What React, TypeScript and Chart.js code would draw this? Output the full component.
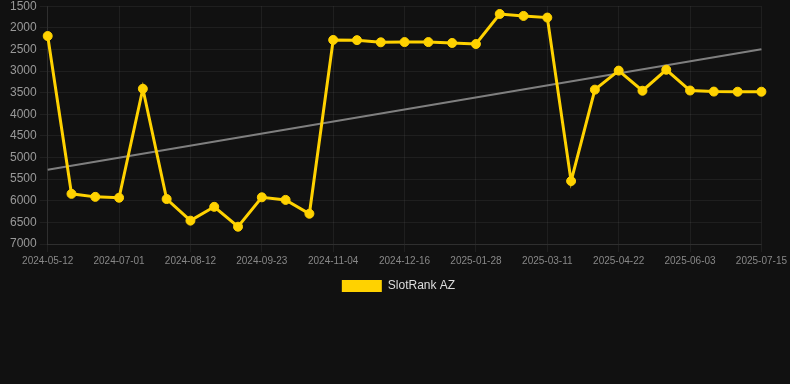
import React, { useEffect, useRef } from "react";
import { Chart, registerables } from "chart.js";

Chart.register(...registerables);

const dates: string[] = [
  "2024-05-12", "2024-05-26", "2024-06-16", "2024-07-01", "2024-07-15", "2024-07-29",
  "2024-08-12", "2024-08-26", "2024-09-09", "2024-09-23", "2024-10-07", "2024-10-21",
  "2024-11-04", "2024-11-18", "2024-12-02", "2024-12-16", "2024-12-30", "2025-01-13",
  "2025-01-28", "2025-02-11", "2025-02-25", "2025-03-11", "2025-03-25", "2025-04-08",
  "2025-04-22", "2025-05-06", "2025-05-20", "2025-06-03", "2025-06-17", "2025-07-01",
  "2025-07-15",
];

const slotRank: number[] = [
  2190, 5840, 5910, 5930, 3410, 5960, 6460, 6140, 6600, 5920, 5980, 6300,
  2280, 2285, 2335, 2330, 2330, 2350, 2375, 1680, 1725, 1763, 5545, 3430,
  2990, 3455, 2970, 3450, 3475, 3478, 3478,
];

const trendStart = 5282;
const trendEnd = 2498;

const yTicks = { min: 1500, max: 7000, step: 500 };

export default function App() {
  const ref = useRef<HTMLCanvasElement | null>(null);

  useEffect(() => {
    document.body.style.margin = "0";
    document.body.style.background = "#111111";
    if (!ref.current) return;
    const trend = dates.map((_, i) =>
      i === 0 ? trendStart : i === dates.length - 1 ? trendEnd : null
    );
    const defaultLabels = Chart.defaults.plugins.legend.labels.generateLabels;
    const chart = new Chart(ref.current, {
      type: "line",
      data: {
        labels: dates,
        datasets: [
          {
            label: "SlotRank AZ",
            data: slotRank,
            borderColor: "#FFD200",
            backgroundColor: "#FFD200",
            borderWidth: 3,
            pointRadius: 4.5,
            pointBorderWidth: 1,
            pointBackgroundColor: "#FFD200",
            pointBorderColor: "#FFD200",
            tension: 0,
          },
          {
            label: "trend",
            data: trend,
            borderColor: "rgba(140,140,140,0.9)",
            borderWidth: 2,
            pointRadius: 0,
            spanGaps: true,
            tension: 0,
          },
        ],
      },
      options: {
        animation: false,
        responsive: false,
        maintainAspectRatio: false,
        layout: { padding: { left: 7, right: 0, top: 0, bottom: 0 } },
        plugins: {
          legend: {
            position: "bottom",
            labels: {
              color: "#dddddd",
              font: { size: 12, family: "Liberation Sans, Arial, sans-serif" },
              boxWidth: 40,
              boxHeight: 12,
              generateLabels: (c) =>
                defaultLabels(c)
                  .filter((it) => it.text !== "trend")
                  .map((it) => ({ ...it, lineWidth: 0 })),
            },
          },
          tooltip: { enabled: false },
        },
        scales: {
          x: {
            grid: { color: "rgba(255,255,255,0.06)", drawTicks: true },
            border: { color: "rgba(255,255,255,0.08)" },
            ticks: {
              color: "#888888",
              font: { size: 10, family: "Liberation Sans, Arial, sans-serif" },
              autoSkip: false,
              maxRotation: 0,
              minRotation: 0,
              callback: function (_v, i) {
                return i % 3 === 0 ? dates[i] : null;
              },
            },
          },
          y: {
            reverse: true,
            min: yTicks.min,
            max: yTicks.max,
            grid: { color: "rgba(255,255,255,0.06)" },
            border: { color: "rgba(255,255,255,0.08)" },
            ticks: {
              stepSize: yTicks.step,
              color: "#999999",
              font: { size: 12, family: "Liberation Sans, Arial, sans-serif" },
              callback: (v) => String(v),
            },
          },
        },
      },
    });
    return () => chart.destroy();
  }, []);

  return (
    <div style={{ width: 790, height: 384, background: "#111111", overflow: "hidden" }}>
      <canvas
        ref={ref}
        width={790}
        height={306}
        style={{ display: "block", marginTop: -4 }}
      />
    </div>
  );
}
